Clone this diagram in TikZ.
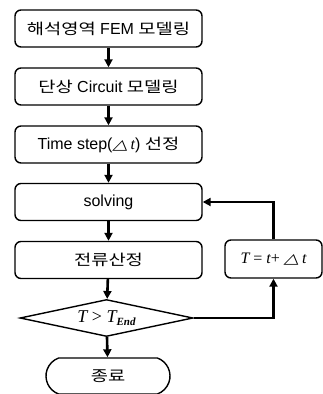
\documentclass[tikz,border=0pt]{standalone}
\usepackage{fontspec}
\usepackage{graphicx}
\setmainfont{Liberation Sans}
\newfontfamily\krfont{Noto Sans CJK KR}
\newfontfamily\tmfont{Liberation Serif}
\newfontfamily\djfont{DejaVu Sans}[FakeSlant=0.2]
\newcommand{\kr}[1]{\scalebox{1.25}[1]{\krfont\fontsize{15}{16}\selectfont #1}}
\usetikzlibrary{arrows.meta,shapes.geometric,shapes.misc}
\newcommand{\mytri}{\scalebox{1.4}[1]{\djfont\fontsize{14}{14}\selectfont △}\kern3pt}
\begin{document}
\begin{tikzpicture}[x=1pt,y=-1pt,
  stepbox/.style={draw,line width=1.4pt,rounded corners=6pt,minimum width=187pt,minimum height=37pt,inner sep=0pt,font=\fontsize{16}{17}\selectfont},
  arr/.style={line width=2.6pt,-{Triangle[length=8pt,width=8pt]}}]
\useasboundingbox (0,0) rectangle (323,394);
\node[stepbox] (b1) at (108.5,28.5) {\kr{해석영역} FEM \kr{모델링}};
\node[stepbox] (b2) at (108.5,86.5) {\kr{단상} Circuit \kr{모델링}};
\node[stepbox] (b3) at (108.5,144.5) {Time step(\mytri{\tmfont\itshape t}) \kr{선정}};
\node[stepbox] (b4) at (108.5,202) {solving};
\node[stepbox] (b5) at (108.5,260) {\kr{전류산정}};
\node[stepbox,minimum width=97pt,minimum height=38pt,font=\tmfont\fontsize{16}{18}\selectfont] (r) at (273.5,259)
  {\itshape T\upshape\ = \itshape t\upshape +\ \mytri\itshape t};
\node[draw,diamond,line width=1.4pt,minimum width=173pt,minimum height=37pt,inner sep=0pt,aspect=4.7,font=\tmfont\fontsize{18}{18}\selectfont] (dia) at (106.5,318)
  {\itshape T\upshape\ > \itshape T\raisebox{-0.35ex}{\fontsize{11}{11}\selectfont\bfseries\itshape End}};
\node[draw,rounded rectangle,rounded rectangle arc length=140,line width=1.4pt,minimum width=124pt,minimum height=36pt,inner sep=0pt] (term) at (108,376) {\kr{종료}};
\draw[arr] (b1) -- (b2);
\draw[arr] (b2) -- (b3);
\draw[arr] (b3) -- (b4);
\draw[arr] (b4) -- (b5);
\draw[arr] (b5) -- (dia);
\draw[arr] (dia) -- (term);
\draw[arr] (dia.east) -| (r.south);
\draw[arr] (r.north) |- (b4.east);
\end{tikzpicture}
\end{document}
